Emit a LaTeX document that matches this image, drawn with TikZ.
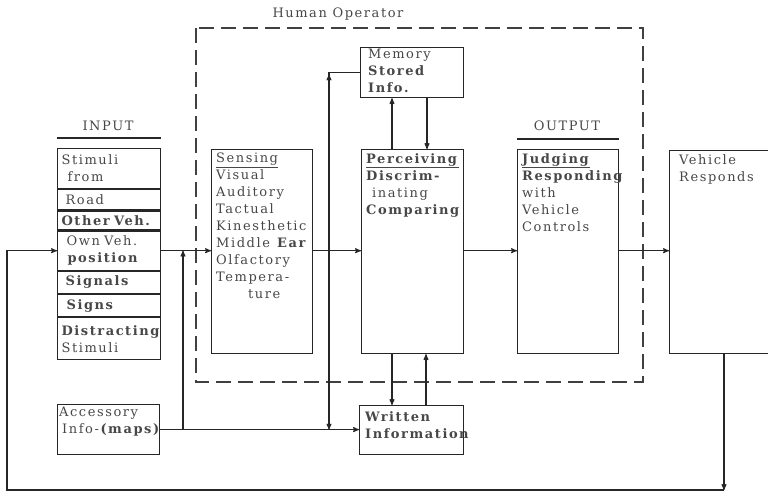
\documentclass[tikz,border=0pt]{standalone}
\usepackage{fontspec}
\setmainfont{DejaVu Serif}[LetterSpace=12]
\usetikzlibrary{arrows,decorations.markings}
\hyphenpenalty=10000

\begin{document}
\begin{tikzpicture}[x=1pt,y=-1pt,>=stealth',
  every node/.style={font=\fontsize{13}{17}\selectfont,text=black!72},
  box/.style={draw=black!85,rectangle,anchor=north west,line width=1.2pt},
  big box/.style={box,inner sep=0pt,minimum width=#1,minimum height=204pt},
  in row/.style={box,minimum width=103pt,text width=95pt,inner xsep=4pt,inner ysep=0pt,align=left},
  txt/.style={anchor=north west,align=left,inner xsep=5pt,inner ysep=4pt},
  conn/.style={draw=black!85,line width=1.1pt},
  op box/.style={draw=black!75,line width=1.1pt,dash pattern=on 15pt off 7pt}]

  \clip (0,0) rectangle (768,496);

  % operator region
  \draw[op box] (196,28) rectangle (643,382);
  \node (hop) at (338,14) {Human Operator};

  % input stack
  \node[in row,minimum height=40pt] (r1) at (57,148) {Stimuli\\\hspace{6pt}from};
  \node[in row,minimum height=20pt] (r2) at (r1.south west) {\hspace{4pt}Road};
  \node[in row,minimum height=19pt] (r3) at (r2.south west) {\textbf{Other Veh.}};
  \node[in row,minimum height=39pt] (r4) at (r3.south west) {\hspace{5pt}Own Veh.\\\hspace{6pt}\textbf{position}};
  \node[in row,minimum height=22pt] (r5) at (r4.south west) {\hspace{4pt}\textbf{Signals}};
  \node[in row,minimum height=22pt] (r6) at (r5.south west) {\hspace{5pt}\textbf{Signs}};
  \node[in row,minimum height=42pt] (r7) at (r6.south west) {\textbf{Distracting}\\Stimuli};
  \node (inl) at (108,126) {INPUT};
  \draw[conn] ([yshift=10pt]r1.north west) -- ([yshift=10pt]r1.north east);

  % stages
  \node[big box=101pt] (sens) at (211,149) {};
  \node[txt] at (sens.north west) {\underline{Sensing}\\Visual\\Auditory\\Tactual\\Kinesthetic\\Middle \textbf{Ear}\\Olfactory\\Tempera-\\\hspace{32pt}ture};
  \node[big box=102pt] (perc) at (361,149) {};
  \node[txt] at (perc.north west) {\underline{\textbf{Perceiving}}\\\textbf{Discrim-}\\\hspace{6pt}inating\\\textbf{Comparing}};
  \node[big box=101pt] (judg) at (517,149) {};
  \node[txt] at (judg.north west) {\underline{\textbf{Judging}}\\\textbf{Responding}\\with\\Vehicle\\Controls};
  \node (outl) at (567,126) {OUTPUT};
  \draw[conn] ([yshift=10pt]judg.north west) -- ([yshift=10pt]judg.north east);
  \node[big box=130pt,minimum height=203pt] (veh) at (669,150) {};
  \node[txt,inner xsep=10pt] at (veh.north west) {Vehicle\\Responds};

  % memory, written info, accessory
  \node[box,inner sep=0pt,minimum width=103pt,minimum height=50pt] (mem) at (360,47) {};
  \node[txt,inner xsep=8pt,inner ysep=2pt] at (mem.north west) {Memory\\\textbf{Stored}\\\textbf{Info.}};
  \node[box,inner sep=0pt,minimum width=104pt,minimum height=49pt] (writ) at (359,405) {};
  \node[txt,inner xsep=6pt,inner ysep=6pt] at (writ.north west) {\textbf{Written}\\\textbf{Information}};
  \node[box,inner sep=0pt,minimum width=102pt,minimum height=50pt] (acc) at (57,404) {};
  \node[txt,inner xsep=2pt,inner ysep=3pt] at (acc.north west) {Accessory\\\hspace{3pt}Info-\textbf{(maps)}};

  \coordinate (ja) at (183,0);
  \coordinate (jm) at (329,0);
  \coordinate (vb) at (724,490);
  \coordinate (fl) at (7,490);

  % main line
  \draw[conn,->] (r4.east) -- (r4.east -| sens.west);
  \draw[conn,->] (r4.east -| sens.east) -- (r4.east -| perc.west);
  \draw[conn,->] (r4.east -| perc.east) -- (r4.east -| judg.west);
  \draw[conn,->] (r4.east -| judg.east) -- (r4.east -| veh.west);

  % feedback
  \draw[conn,->] (vb |- veh.south) -- (vb);
  \draw[conn,->] (vb) -- (fl) |- (r4.west);

  % accessory info
  \draw[conn,->] (acc.east) -- (acc.east -| writ.west);
  \draw[conn,->] (acc.east -| ja) -- (r4.east -| ja);
  \draw[conn,->,postaction={decorate},
    decoration={markings,mark=at position 0.1 with {\arrow{<}}}]
    (mem.west) -| (acc.east -| jm);

  % memory and written info links
  \draw[conn,->] ([xshift=31pt]perc.north west) -- ([xshift=32pt]mem.south west);
  \draw[conn,->] ([xshift=67pt]mem.south west) -- ([xshift=66pt]perc.north west);
  \draw[conn,->] ([xshift=31pt]perc.south west) -- ([xshift=33pt]writ.north west);
  \draw[conn,->] ([xshift=67pt]writ.north west) -- ([xshift=65pt]perc.south west);
\end{tikzpicture}
\end{document}
